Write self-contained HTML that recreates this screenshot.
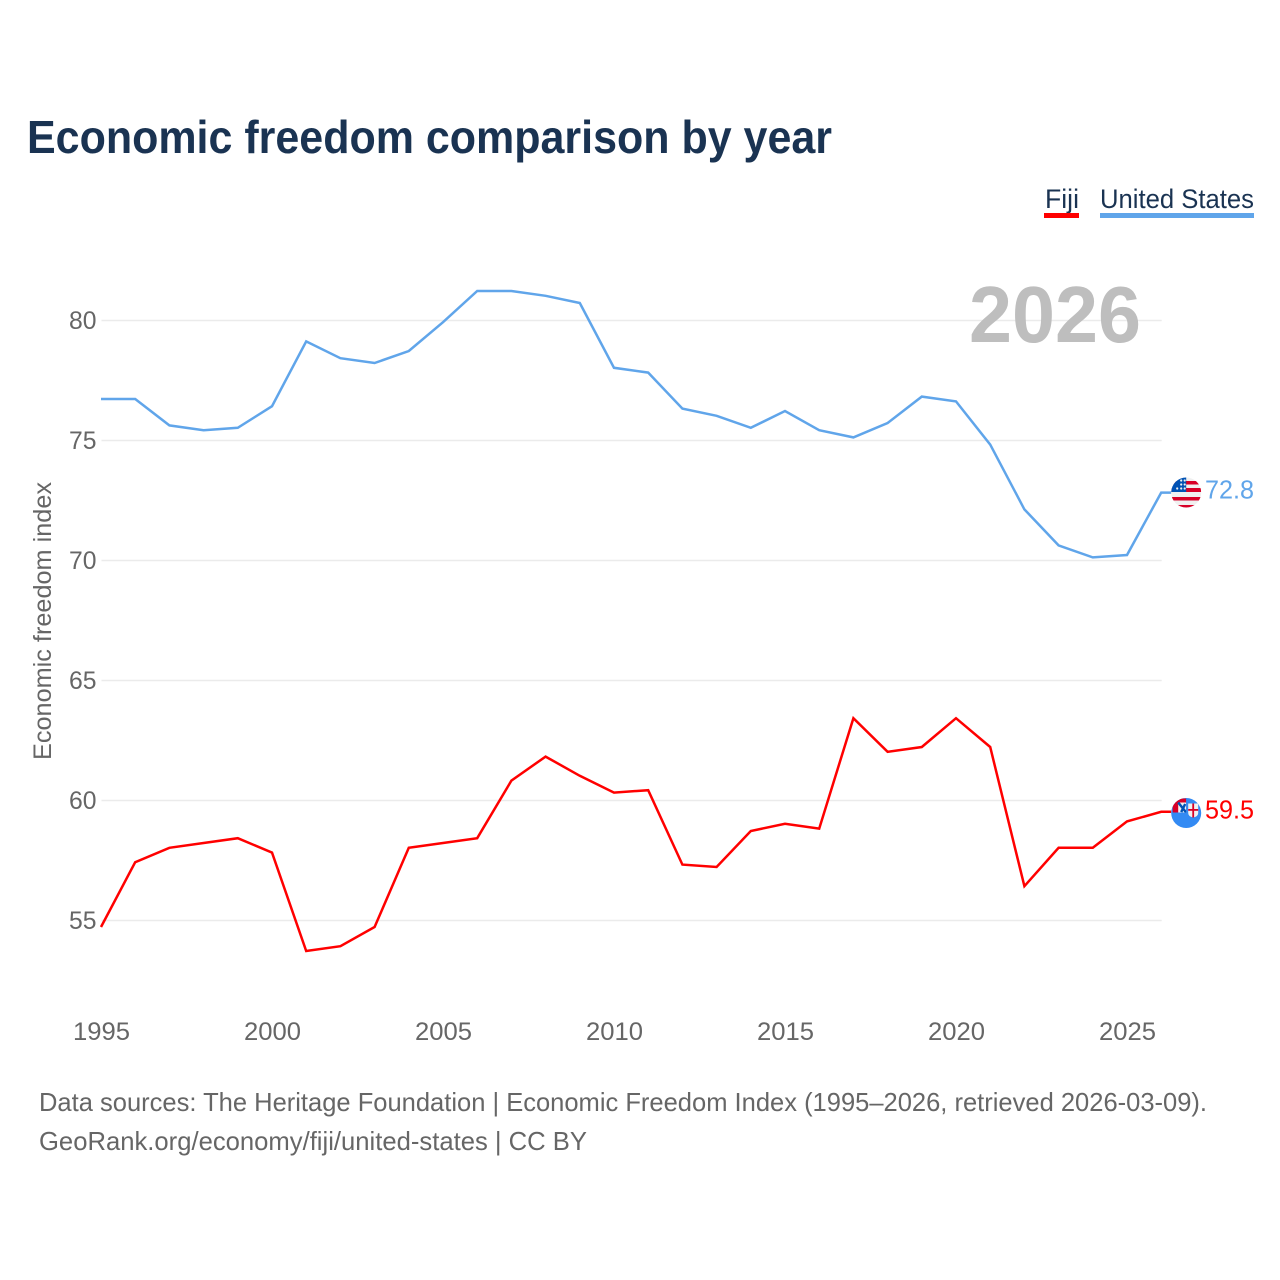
<!DOCTYPE html>
<html lang="en">
<head>
<meta charset="utf-8">
<title>Economic freedom comparison by year</title>
<style>
html,body{margin:0;padding:0;background:#fff;}
svg{display:block;}
text{font-family:"Liberation Sans",sans-serif;}
</style>
</head>
<body>
<svg id="chart" xmlns="http://www.w3.org/2000/svg" width="1280" height="1280" viewBox="0 0 1280 1280">
  <rect x="0" y="0" width="1280" height="1280" fill="#ffffff"/>
  <text x="27" y="153" font-size="46" font-weight="700" fill="#1a3352" textLength="805" lengthAdjust="spacingAndGlyphs">Economic freedom comparison by year</text>
  <g>
    <text x="1045" y="208" font-size="27" fill="#1a3352" textLength="34" lengthAdjust="spacingAndGlyphs">Fiji</text>
    <rect x="1044" y="213" width="35" height="5" fill="#ff0000"/>
  </g>
  <g>
    <text x="1100" y="208" font-size="27" fill="#1a3352" textLength="154" lengthAdjust="spacingAndGlyphs">United States</text>
    <rect x="1100" y="213" width="154" height="5" fill="#60a5ea"/>
  </g>
  <text transform="translate(51 621) rotate(-90)" text-anchor="middle" font-size="25" fill="#666666" textLength="278" lengthAdjust="spacingAndGlyphs">Economic freedom index</text>
  <g id="grid"></g>
  <g id="yticks"></g>
  <g id="xticks"></g>
  <text x="969" y="342" font-size="80" font-weight="700" fill="#bebebe" textLength="172" lengthAdjust="spacingAndGlyphs">2026</text>
  <path id="line-us" fill="none" stroke="#60a5ea" stroke-width="2.5" stroke-linejoin="miter"/>
  <path id="line-fiji" fill="none" stroke="#ff0000" stroke-width="2.5" stroke-linejoin="miter"/>
  <defs>
    <clipPath id="flag-clip"><circle cx="0" cy="0" r="15"/></clipPath>
    <clipPath id="ensign-clip"><rect x="-13.5" y="-14.5" width="13.5" height="14"/></clipPath>
  </defs>
  <g id="flag-us">
    <g clip-path="url(#flag-clip)">
      <rect x="-15" y="-15" width="30" height="30" fill="#f0f0f0"/>
      <rect x="-15" y="-11.5" width="30" height="3.5" fill="#d80027"/>
      <rect x="-15" y="-4.5" width="30" height="4" fill="#d80027"/>
      <rect x="-15" y="4.5" width="30" height="3.5" fill="#d80027"/>
      <rect x="-15" y="12.5" width="30" height="3" fill="#d80027"/>
      <rect x="-15" y="-15" width="15" height="14.5" fill="#0052b4"/>
      <circle cx="-9" cy="-4" r="1.1" fill="#f0f0f0"/>
      <circle cx="-5" cy="-4" r="1.1" fill="#f0f0f0"/>
      <circle cx="-1.5" cy="-4" r="1.1" fill="#f0f0f0"/>
      <circle cx="-5" cy="-8" r="1.1" fill="#f0f0f0"/>
      <circle cx="-1.5" cy="-8" r="1.1" fill="#f0f0f0"/>
      <circle cx="-1.5" cy="-12" r="1.1" fill="#f0f0f0"/>
      <circle cx="-5" cy="-12" r="1.1" fill="#f0f0f0"/>
    </g>
  </g>
  <g id="flag-fiji">
    <circle cx="0" cy="0" r="15" fill="#338af3"/>
    <g clip-path="url(#flag-clip)">
      <g clip-path="url(#ensign-clip)">
        <rect x="-15" y="-15" width="15" height="15" fill="#d80027"/>
        <rect x="-8" y="-10.5" width="8" height="10" fill="#f0f0f0"/>
        <path d="M-8 -10.5L0 -0.5" stroke="#0052b4" stroke-width="2.5"/>
        <path d="M-1 -9L-5 -1" stroke="#0052b4" stroke-width="2.5"/>
      </g>
      <path d="M2 -9.5H12V0Q12 3.5 7 4.5Q2 3.5 2 0Z" fill="#f0f0f0"/>
      <rect x="2" y="-4" width="10" height="1.8" fill="#d80027"/>
      <rect x="6.1" y="-9.5" width="1.8" height="14" fill="#d80027"/>
    </g>
  </g>
  <text id="value-us" x="1205" font-size="26" fill="#60a5ea" textLength="49" lengthAdjust="spacingAndGlyphs"></text>
  <text id="value-fiji" x="1205" font-size="26" fill="#ff0000" textLength="49" lengthAdjust="spacingAndGlyphs"></text>
  <text x="39" y="1111" font-size="26" fill="#666666" textLength="1168" lengthAdjust="spacingAndGlyphs">Data sources: The Heritage Foundation | Economic Freedom Index (1995–2026, retrieved 2026-03-09).</text>
  <text x="39" y="1150" font-size="26" fill="#666666" textLength="548" lengthAdjust="spacingAndGlyphs">GeoRank.org/economy/fiji/united-states | CC BY</text>
</svg>
<script>
var years = [1995,1996,1997,1998,1999,2000,2001,2002,2003,2004,2005,2006,2007,2008,2009,2010,2011,2012,2013,2014,2015,2016,2017,2018,2019,2020,2021,2022,2023,2024,2025,2026];
var usValues = [76.7,76.7,75.6,75.4,75.5,76.4,79.1,78.4,78.2,78.7,79.9,81.2,81.2,81.0,80.7,78.0,77.8,76.3,76.0,75.5,76.2,75.4,75.1,75.7,76.8,76.6,74.8,72.1,70.6,70.1,70.2,72.8];
var fijiValues = [54.7,57.4,58.0,58.2,58.4,57.8,53.7,53.9,54.7,58.0,58.2,58.4,60.8,61.8,61.0,60.3,60.4,57.3,57.2,58.7,59.0,58.8,63.4,62.0,62.2,63.4,62.2,56.4,58.0,58.0,59.1,59.5];
var yTickValues = [55,60,65,70,75,80];
var xTickValues = [1995,2000,2005,2010,2015,2020,2025];

var NS = 'http://www.w3.org/2000/svg';
function xScale(year){ return 101.5 + (year - 1995) * 34.2; }
function yScale(value){ return 320.5 + (80 - value) * 24; }
function lineX(year){ return xScale(year) - 0.5; }
function lineY(value){ return yScale(value) - 0.7; }
function linePath(values){
  var d = values.map(function(v,i){
    return (i ? 'L' : 'M') + lineX(years[i]).toFixed(2) + ' ' + lineY(v).toFixed(2);
  }).join('');
  var leaderEnd = lineX(years[years.length - 1]) + 10;
  return d + 'L' + leaderEnd.toFixed(2) + ' ' + lineY(values[values.length - 1]).toFixed(2);
}

var gridGroup = document.getElementById('grid');
var yGroup = document.getElementById('yticks');
var xGroup = document.getElementById('xticks');

yTickValues.forEach(function(t){
  var g = document.createElementNS(NS,'line');
  
  
  g.setAttribute('x1', xScale(1995));
  g.setAttribute('x2', xScale(2026));
  g.setAttribute('y1', yScale(t));
  g.setAttribute('y2', yScale(t));
  g.setAttribute('stroke', '#ebebeb');
  g.setAttribute('stroke-width', '1.5');
  gridGroup.appendChild(g);

  var l = document.createElementNS(NS,'text');
  
  
  l.setAttribute('x', 96.5);
  l.setAttribute('y', yScale(t) + 8.5);
  l.setAttribute('text-anchor', 'end');
  l.setAttribute('font-size', '25');
  l.setAttribute('fill', '#666666');
  l.setAttribute('textLength', '27.5');
  l.setAttribute('lengthAdjust', 'spacingAndGlyphs');
  l.textContent = t;
  yGroup.appendChild(l);
});

xTickValues.forEach(function(t){
  var l = document.createElementNS(NS,'text');
  
  
  l.setAttribute('x', xScale(t));
  l.setAttribute('y', 1040);
  l.setAttribute('text-anchor', 'middle');
  l.setAttribute('font-size', '25');
  l.setAttribute('fill', '#666666');
  l.setAttribute('textLength', '57');
  l.setAttribute('lengthAdjust', 'spacingAndGlyphs');
  l.textContent = t;
  xGroup.appendChild(l);
});

document.getElementById('line-us').setAttribute('d', linePath(usValues));
document.getElementById('line-fiji').setAttribute('d', linePath(fijiValues));

var usLast = usValues[usValues.length - 1];
var fijiLast = fijiValues[fijiValues.length - 1];
var flagX = xScale(years[years.length - 1]) + 24.5;
document.getElementById('flag-us').setAttribute('transform', 'translate(' + flagX + ' ' + (yScale(usLast) - 0.8) + ')');
document.getElementById('flag-fiji').setAttribute('transform', 'translate(' + flagX + ' ' + (yScale(fijiLast) + 0.5) + ')');
var usLabel = document.getElementById('value-us');
usLabel.setAttribute('y', yScale(usLast) + 5);
usLabel.textContent = usLast.toFixed(1);
var fijiLabel = document.getElementById('value-fiji');
fijiLabel.setAttribute('y', yScale(fijiLast) + 6);
fijiLabel.textContent = fijiLast.toFixed(1);
</script>
</body>
</html>
